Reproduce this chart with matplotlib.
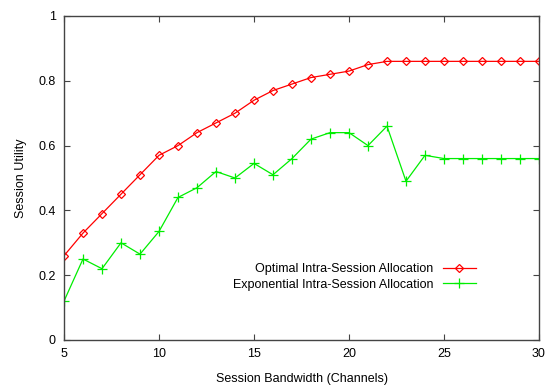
import matplotlib
matplotlib.use('Agg')
import matplotlib.pyplot as plt

plt.rcParams['font.family'] = ['Liberation Sans', 'DejaVu Sans']
plt.rcParams['font.size'] = 9

bandwidth = list(range(5, 31))
optimal = [0.26, 0.33, 0.39, 0.45, 0.51, 0.57, 0.60, 0.64, 0.67, 0.70,
           0.74, 0.77, 0.79, 0.81, 0.82, 0.83, 0.85, 0.86, 0.86, 0.86,
           0.86, 0.86, 0.86, 0.86, 0.86, 0.86]
exponential = [0.12, 0.25, 0.22, 0.30, 0.265, 0.335, 0.44, 0.47, 0.52, 0.50,
               0.545, 0.51, 0.56, 0.62, 0.64, 0.64, 0.60, 0.66, 0.49, 0.57,
               0.56, 0.56, 0.56, 0.56, 0.56, 0.56]
xticks = [5, 10, 15, 20, 25, 30]
yticks = [0, 0.2, 0.4, 0.6, 0.8, 1]

fig = plt.figure(figsize=(5.49, 3.85), dpi=100)
ax = fig.add_axes([64/549, 1 - 340/385, 475/549, 324/385])

ax.plot(bandwidth, optimal, color='#ff0000', lw=0.9, marker='D', ms=4.5,
        mfc='none', mec='#ff0000', mew=0.9, label='Optimal Intra-Session Allocation')
ax.plot(bandwidth, exponential, color='#00ee00', lw=0.9, marker='+', ms=6.5,
        mew=0.9, label='Exponential Intra-Session Allocation')

ax.set_xlim(5, 30)
ax.set_ylim(0, 1)
ax.set_xticks(xticks)
ax.set_yticks(yticks)
ax.set_yticklabels(['0', '0.2', '0.4', '0.6', '0.8', '1'])
ax.tick_params(direction='in', top=True, right=True, length=4, width=0.8,
               color='#444444', pad=6)
for s in ax.spines.values():
    s.set_color('#444444')
    s.set_linewidth(1)

ax.set_xlabel('Session Bandwidth (Channels)', labelpad=9)
ax.set_ylabel('Session Utility', labelpad=8)

ax.legend(loc='lower right', bbox_to_anchor=(0.877, 0.137), frameon=False,
          markerfirst=False, handlelength=2.6, handletextpad=0.8,
          labelspacing=0.25, borderaxespad=0)

fig.savefig('out.png', dpi=100)
